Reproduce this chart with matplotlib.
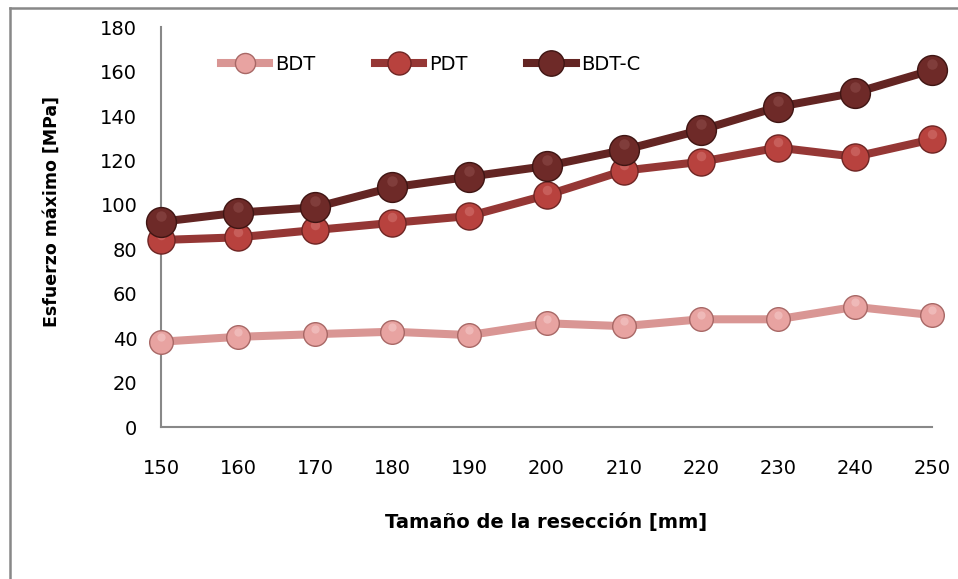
import matplotlib
matplotlib.use("Agg")
import matplotlib.pyplot as plt
from matplotlib.lines import Line2D
from matplotlib.transforms import offset_copy

plt.rcParams['font.family'] = ['DejaVu Sans']

# data
sizes = [150, 160, 170, 180, 190, 200, 210, 220, 230, 240, 250]
bdt = [38.4, 40.6, 41.8, 42.9, 41.4, 46.7, 45.4, 48.5, 48.5, 54.1, 50.4]
pdt = [84.2, 85.4, 88.7, 91.9, 95.0, 104.4, 115.4, 119.4, 125.8, 121.7, 129.5]
bdt_c = [92.4, 96.5, 98.9, 107.9, 112.7, 117.5, 124.7, 133.7, 144.1, 150.5, 160.7]

series = [
    ('BDT', bdt, '#d99694', '#e8a3a1', '#a86866', '#f6d0cf', 17),
    ('PDT', pdt, '#953735', '#b8423e', '#6e2523', '#d77a76', 19.5),
    ('BDT-C', bdt_c, '#632523', '#6e2a28', '#3f1513', '#93514e', 21.5),
]

fig = plt.figure(figsize=(9.58, 5.79), dpi=100)
ax = fig.add_axes([0.168, 0.2625, 0.805, 0.6905])

# outer chart frame (only top and left visible)
fig.add_artist(Line2D([0.0104, 0.0104], [0, 0.986], color='#888888', lw=1.8, transform=fig.transFigure))
fig.add_artist(Line2D([0.0104, 1.0], [0.986, 0.986], color='#888888', lw=1.8, transform=fig.transFigure))

for i, (name, vals, lc, fc, ec, hc, ms) in enumerate(series):
    ax.plot(sizes, vals, color=lc, lw=5.8, marker='o', ms=ms,
            mfc=fc, mec=ec, mew=1, label=name, clip_on=False, zorder=3 + i)
    # small highlight on top of each ball
    hl = offset_copy(ax.transData, fig=fig, x=0, y=ms * 0.2, units='points')
    ax.plot(sizes, vals, ls='none', marker='o', ms=ms * 0.35, mfc=hc, mec='none',
            alpha=0.5, transform=hl, clip_on=False, zorder=3 + i)

ax.set_xlim(150, 250)
ax.set_ylim(0, 180)
ax.set_xticks(sizes)
ax.set_yticks(range(0, 181, 20))
ax.tick_params(axis='x', length=0, pad=23, labelsize=14)
ax.tick_params(axis='y', length=0, pad=17, labelsize=14)

for s in ['top', 'right']:
    ax.spines[s].set_visible(False)
for s in ['left', 'bottom']:
    ax.spines[s].set_color('#888888')
    ax.spines[s].set_linewidth(1.5)

ax.set_xlabel('Tamaño de la resección [mm]', fontsize=14, fontweight='bold')
ax.xaxis.set_label_coords(0.5, -0.215)
ax.set_ylabel('Esfuerzo máximo [MPa]', fontsize=12.5, fontweight='bold')
ax.yaxis.set_label_coords(-0.13, 0.54)

ax.legend(loc='upper left', bbox_to_anchor=(0.055, 0.975), ncol=3, frameon=False,
          fontsize=14, handlelength=2.5, columnspacing=3.05, handletextpad=0.3,
          markerscale=0.85)

fig.savefig('out.png', dpi=100)
